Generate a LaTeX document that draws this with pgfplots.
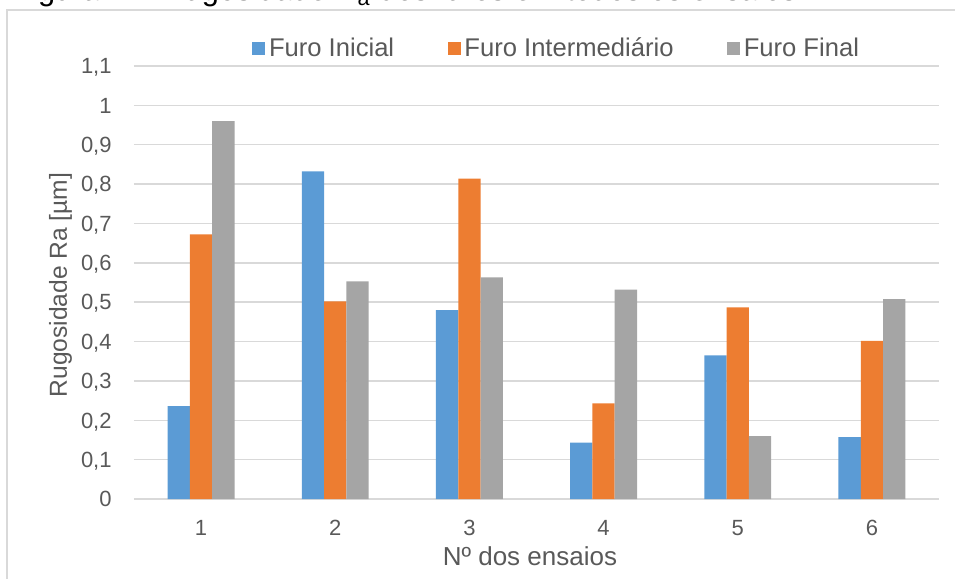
\documentclass[border=0pt]{standalone}
\usepackage{pgfplots}
\pgfplotsset{compat=1.18}
\usepackage{fontspec}
\setmainfont{Liberation Sans}
\definecolor{cblue}{HTML}{5B9BD5}
\definecolor{corange}{HTML}{ED7D31}
\definecolor{cgray}{HTML}{A5A5A5}
\definecolor{cgrid}{HTML}{D9D9D9}
\definecolor{ctext}{HTML}{595959}
\begin{document}
\begin{tikzpicture}
\useasboundingbox (-67pt,-40pt) rectangle (410.5pt,249.5pt);
\draw[cgrid, line width=0.9pt] (-63.5pt,-45pt) -- (-63.5pt,244.3pt) -- (420pt,244.3pt);
\node[anchor=base west, font=\fontsize{15.4pt}{17pt}\selectfont, inner sep=0pt] at (-61pt,249pt) {Figura 17: Rugosidade R\textsubscript{a} dos furos em todos os ensaios.};
\begin{axis}[
  at={(0pt,0pt)}, anchor=origin,
  scale only axis, width=402.5pt, height=216.5pt,
  xmin=0.5, xmax=6.5, ymin=0, ymax=1.1,
  ybar=0pt, bar width=11.15pt,
  axis x line*=bottom, axis y line*=left,
  x axis line style={cgrid, line width=0.7pt, -},
  y axis line style={draw=none},
  xtick={1,2,3,4,5,6}, xtick style={draw=none},
  ytick={0,0.1,0.2,0.3,0.4,0.5,0.6,0.7,0.8,0.9,1,1.1},
  yticklabels={0,{0,1},{0,2},{0,3},{0,4},{0,5},{0,6},{0,7},{0,8},{0,9},1,{1,1}},
  ymajorgrids, grid style={cgrid, line width=0.7pt},
  ytick style={draw=none},
  /pgf/number format/assume math mode=true,
  tick label style={font=\fontsize{11pt}{13pt}\selectfont, text=ctext, inner sep=0pt},
  yticklabel style={anchor=base east, xshift=-11pt, yshift=-3.9pt},
  xticklabel style={anchor=base, yshift=-13.9pt},
  legend style={draw=none, fill=none, at={(0.1466,1.0395)}, anchor=west, inner sep=0pt,
    legend columns=3, font=\fontsize{12.8pt}{14pt}\selectfont, text=ctext,
    nodes={inner sep=1.8pt},
    /tikz/every even column/.append style={column sep=25pt},
    /tikz/every odd column/.append style={column sep=0pt}},
  legend image code/.code={\fill[#1] (0pt,-3.25pt) rectangle (6.5pt,3.25pt);},
  legend cell align=left,
  clip=false,
]
\addplot[fill=cblue, draw=none] coordinates {(1,0.236) (2,0.832) (3,0.480) (4,0.143) (5,0.365) (6,0.157)};
\addplot[fill=corange, draw=none] coordinates {(1,0.672) (2,0.502) (3,0.814) (4,0.243) (5,0.487) (6,0.402)};
\addplot[fill=cgray, draw=none] coordinates {(1,0.960) (2,0.553) (3,0.563) (4,0.532) (5,0.160) (6,0.508)};
\legend{Furo Inicial, Furo Intermediário, Furo Final}
\node[rotate=90, anchor=base, font=\fontsize{12.3pt}{14pt}\selectfont, text=ctext, inner sep=0pt] at (-33.5pt,107pt) {Rugosidade Ra [µm]};
\node[anchor=base, font=\fontsize{13pt}{15pt}\selectfont, text=ctext, inner sep=0pt] at (198pt,-33pt) {Nº dos ensaios};
\end{axis}
\end{tikzpicture}
\end{document}
